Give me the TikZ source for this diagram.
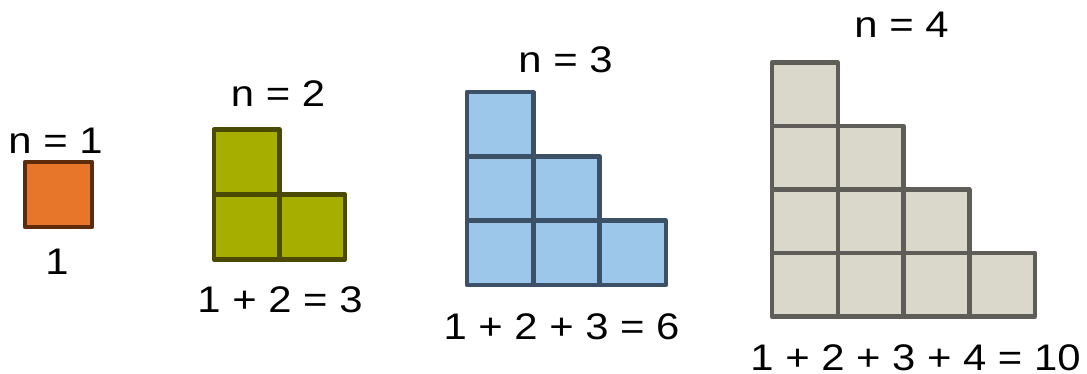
\documentclass[tikz,border=0pt]{standalone}
\usepackage{fontspec}
\setmainfont{Liberation Sans}[FakeStretch=1.13]
\definecolor{orfill}{HTML}{E8762A}
\definecolor{ordraw}{HTML}{5E2C0A}
\definecolor{olfill}{HTML}{A6AE00}
\definecolor{oldraw}{HTML}{4A4A05}
\definecolor{blfill}{HTML}{9CC6EA}
\definecolor{bldraw}{HTML}{3D5166}
\definecolor{grfill}{HTML}{DAD8CA}
\definecolor{grdraw}{HTML}{5E5D58}
\newcommand{\lblfont}{\fontsize{37}{42}\selectfont}
\tikzset{
  lbl/.style={inner sep=0pt, font=\lblfont},
  cell/.style={line width=4.5pt, line join=round}
}
\newcommand{\stair}[7]{% #1 x0, #2 ybottom, #3 w, #4 h, #5 n, #6 fill, #7 draw
  \foreach \r in {1,...,#5}{
    \pgfmathtruncatemacro{\cmax}{#5-\r+1}
    \foreach \c in {1,...,\cmax}{
      \filldraw[cell, fill=#6, draw=#7]
        ({#1+(\c-1)*#3},{#2-(\r-1)*#4}) rectangle ({#1+\c*#3},{#2-\r*#4});
    }
  }
}
\begin{document}
\begin{tikzpicture}[x=1pt, y=-1pt]
\useasboundingbox (0,0) rectangle (1087,374);
% n = 1
\stair{25}{227}{67}{65}{1}{orfill}{ordraw}
\node[lbl] (t1) at (55.5,140.5) {n = 1};
\node[lbl] (s1) at (57,262) {1};
% n = 2
\stair{214}{259.5}{65.5}{65}{2}{olfill}{oldraw}
\node[lbl] (t2) at (278,94) {n = 2};
\node[lbl] (s2) at (280,299.5) {1 + 2 = 3};
% n = 3
\stair{467}{285}{66.3}{64.3}{3}{blfill}{bldraw}
\node[lbl] (t3) at (565.5,59.5) {n = 3};
\node[lbl] (s3) at (561.5,326.5) {1 + 2 + 3 = 6};
% n = 4
\stair{772}{316.3}{65.75}{63.4}{4}{grfill}{grdraw}
\node[lbl] (t4) at (901.5,25) {n = 4};
\node[lbl] (s4) at (915.5,358) {1 + 2 + 3 + 4 = 10};
\end{tikzpicture}
\end{document}
